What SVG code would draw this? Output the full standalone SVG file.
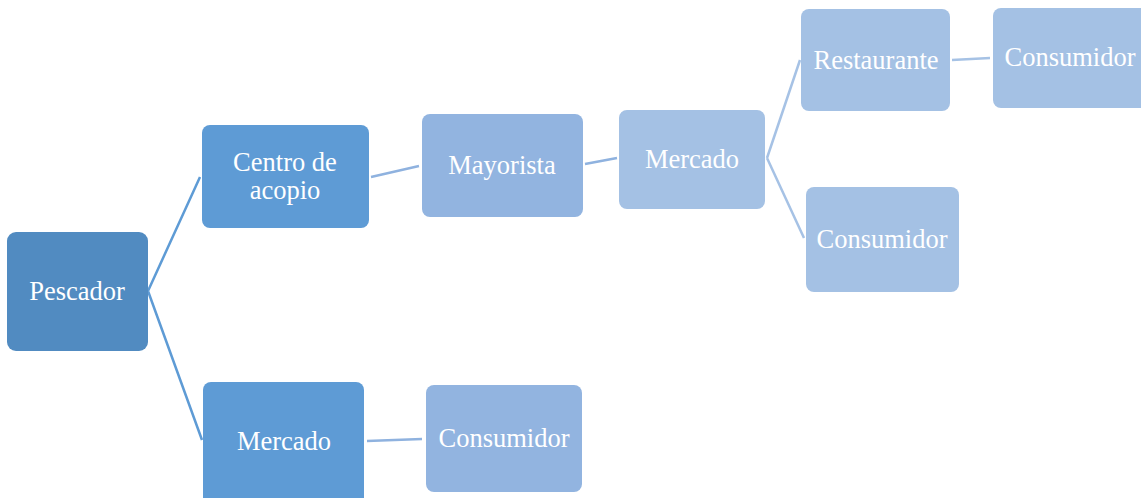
<svg xmlns="http://www.w3.org/2000/svg" width="1141" height="498" viewBox="0 0 1141 498">
<style>
.n text{font-family:"Liberation Serif","Times New Roman",serif;font-size:26.5px;fill:#ffffff;text-anchor:middle;dominant-baseline:central}
.l1{fill:#518bc1}
.l2{fill:#5e9bd5}
.l3{fill:#92b4e0}
.l4{fill:#a4c1e4}
.c{fill:none;stroke-width:2.5}
</style>
<rect width="1141" height="498" fill="#ffffff"/>
<g id="connectors">
<path class="c" stroke="#5e9bd5" d="M148 291 L200 177 M148 291 L202 440"/>
<path class="c" stroke="#8fb2df" d="M371 177 L419 166 M585 164 L617 158 M367 441 L422 439"/>
<path class="c" stroke="#a6c2e5" d="M767 158 L800 60 M767 158 L804 238 M952 60 L990 58"/>
</g>
<g id="pescador" class="n"><rect class="l1" x="7" y="232" width="141" height="119" rx="9"/><text x="77" y="291">Pescador</text></g>
<g id="centro" class="n"><rect class="l2" x="202" y="125" width="167" height="103" rx="8"/><text x="285" y="162">Centro de</text><text x="285" y="190">acopio</text></g>
<g id="mercado1" class="n"><rect class="l2" x="203" y="382" width="161" height="125" rx="8"/><text x="284" y="441">Mercado</text></g>
<g id="mayorista" class="n"><rect class="l3" x="422" y="114" width="161" height="103" rx="8"/><text x="502" y="165">Mayorista</text></g>
<g id="consumidor1" class="n"><rect class="l3" x="426" y="385" width="156" height="107" rx="8"/><text x="504" y="438">Consumidor</text></g>
<g id="mercado2" class="n"><rect class="l4" x="619" y="110" width="146" height="99" rx="8"/><text x="692" y="159">Mercado</text></g>
<g id="restaurante" class="n"><rect class="l4" x="801" y="9" width="149" height="102" rx="8"/><text x="876" y="60">Restaurante</text></g>
<g id="consumidor2" class="n"><rect class="l4" x="806" y="187" width="153" height="105" rx="8"/><text x="882" y="239">Consumidor</text></g>
<g id="consumidor3" class="n"><rect class="l4" x="993" y="8" width="160" height="100" rx="8"/><text x="1070" y="57">Consumidor</text></g>
</svg>
